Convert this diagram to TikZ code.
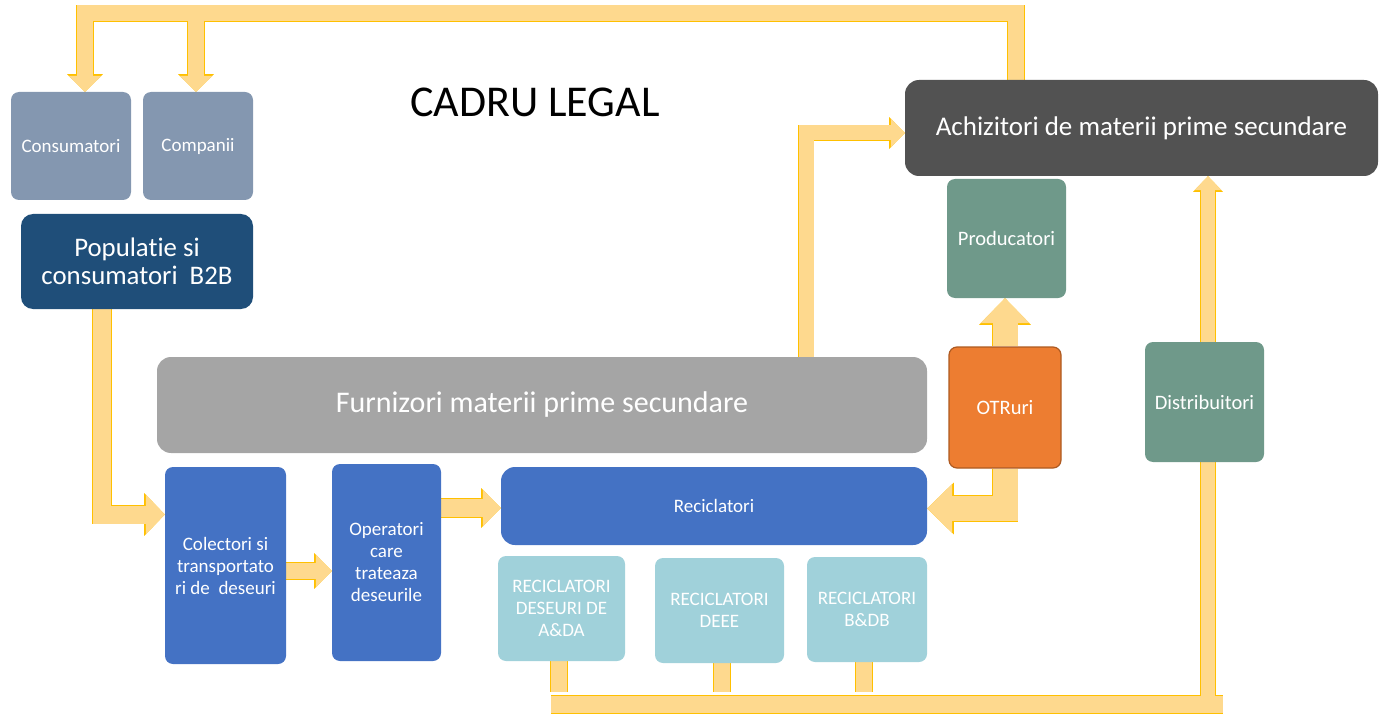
\documentclass[tikz,border=0pt]{standalone}
\usepackage{fontspec}
\setmainfont{Carlito}[Ligatures=NoCommon]
\usetikzlibrary{arrows.meta,calc}
\definecolor{afill}{HTML}{FED98E}
\definecolor{aborder}{HTML}{FFC000}
\definecolor{cgray}{HTML}{8497B0}
\definecolor{popblue}{HTML}{1F4E79}
\definecolor{achgray}{HTML}{525252}
\definecolor{sage}{HTML}{6F998A}
\definecolor{otrfill}{HTML}{ED7D31}
\definecolor{otrdraw}{HTML}{AE5A21}
\definecolor{furngray}{HTML}{A5A5A5}
\definecolor{midblue}{HTML}{4472C4}
\definecolor{teal}{HTML}{A0D1DA}
\pgfdeclarelayer{bg}
\pgfsetlayers{bg,main}
\tikzset{
  box/.style={rounded corners=8pt, inner sep=0pt, align=center, text=white,
    font=\fontsize{19}{22}\selectfont},
  sz/.style 2 args={minimum width=#1pt, minimum height=#2pt},
  fat/.style n args={3}{
    /utils/exec={\pgfmathsetmacro\fatbw{#1+1.6}\pgfmathsetmacro\fatbhw{#2+2.8}\pgfmathsetmacro\fatbhl{#3+1.6}},
    preaction={draw=aborder, line width=\fatbw pt,
      -{Triangle[width=\fatbhw pt, length=\fatbhl pt, line width=0pt]}},
    draw=afill, line width=#1pt,
    -{Triangle[width=#2pt, length=#3pt, line width=0pt]}},
  fatline/.style={
    /utils/exec={\pgfmathsetmacro\fatbw{#1+1.6}},
    preaction={draw=aborder, line width=\fatbw pt},
    draw=afill, line width=#1pt}
}
\begin{document}
\begin{tikzpicture}[x=1pt,y=-1pt]
\useasboundingbox (0,0) rectangle (1379,714);

% nodes
\node[box, sz={120}{108}, fill=cgray] (cons) at (71,146) {Consumatori};
\node[box, sz={110}{108}, fill=cgray] (comp) at (198,146) {Companii};
\node[box, sz={232}{95}, fill=popblue, rounded corners=12pt,
  font=\fontsize{26.8}{28}\selectfont] (pop) at (137,261.5) {Populatie si\\consumatori\ \ B2B};
\node[font=\fontsize{44}{50}\selectfont, inner sep=0pt] (cadru) at (535,102) {CADRU LEGAL};
\node[box, sz={473}{96}, fill=achgray, rounded corners=14pt,
  font=\fontsize{27}{32}\selectfont] (ach) at (1141.5,128) {Achizitori de materii prime secundare};
\node[box, sz={119}{119}, fill=sage, font=\fontsize{20.5}{24}\selectfont] (prod) at (1006.5,238.5) {Producatori};
\node[box, sz={112}{121}, fill=otrfill, draw=otrdraw, line width=1.2pt,
  font=\fontsize{20.5}{24}\selectfont] (otr) at (1005,407.5) {OTRuri};
\node[box, sz={119}{120}, fill=sage, font=\fontsize{20.5}{24}\selectfont] (dist) at (1204.5,402) {Distribuitori};
\node[box, sz={770}{96}, fill=furngray, rounded corners=14pt,
  font=\fontsize{30}{35}\selectfont] (furn) at (542,405) {Furnizori materii prime secundare};
\node[box, sz={121}{197}, fill=midblue] (col) at (225.5,565.5) {Colectori si\\transportato\\ri de\ \ deseuri};
\node[box, sz={109}{197}, fill=midblue] (op) at (386.5,562.5) {Operatori\\care\\trateaza\\deseurile};
\node[box, sz={426}{78}, fill=midblue, rounded corners=14pt] (rec) at (714,506) {Reciclatori};
\node[box, sz={127}{105}, fill=teal] (rA) at (561.5,608.5) {RECICLATORI\\DESEURI DE\\A\&DA};
\node[box, sz={129}{105}, fill=teal] (rD) at (719.5,610.5) {RECICLATORI\\DEEE};
\node[box, sz={120}{105}, fill=teal] (rB) at (867,609.5) {RECICLATORI\\B\&DB};

% connectors
\begin{pgfonlayer}{bg}
\draw[fat={16}{33}{16}] ([xshift=-125.5pt]ach.north) |- (85,13.5) -- ([xshift=14pt]cons.north);
\draw[fat={16}{33}{16}] (196,21) -- (196,0 |- comp.north);
\draw[fat={18}{40}{19}] (102,0 |- pop.south) |- ([yshift=51pt]col.west);
\draw[fat={16}{33}{16}] (col.east |- 0,571) -- (op.west |- 0,571);
\draw[fat={18}{37}{18}] (op.east |- 0,508) -- (rec.west |- 0,508);
\draw[fat={15}{29}{14}] (806,0 |- furn.north) |- (ach.west |- 0,133);
\draw[fat={25}{49}{25}] (otr.north) -- (otr.north |- prod.south);
\draw[fat={25}{49}{25}] (otr.south) |- (rec.east |- 0,508.5);
\draw[fatline=16] (559,0 |- rA.south) -- (559,692);
\draw[fatline=16] (722,0 |- rD.south) -- (722,692);
\draw[fatline=16] (864,0 |- rB.south) -- (864,692);
\coordinate (busL) at (551,704.5);
\coordinate (busR) at (1223,704.5);
\draw[fatline=17] (busL) -- (busR);
\draw[fatline=14] (1208,696) -- (1208,0 |- dist.south);
\draw[fat={14}{27}{14}] (1208,0 |- dist.north) -- (1208,0 |- ach.south);
\end{pgfonlayer}
\end{tikzpicture}
\end{document}
